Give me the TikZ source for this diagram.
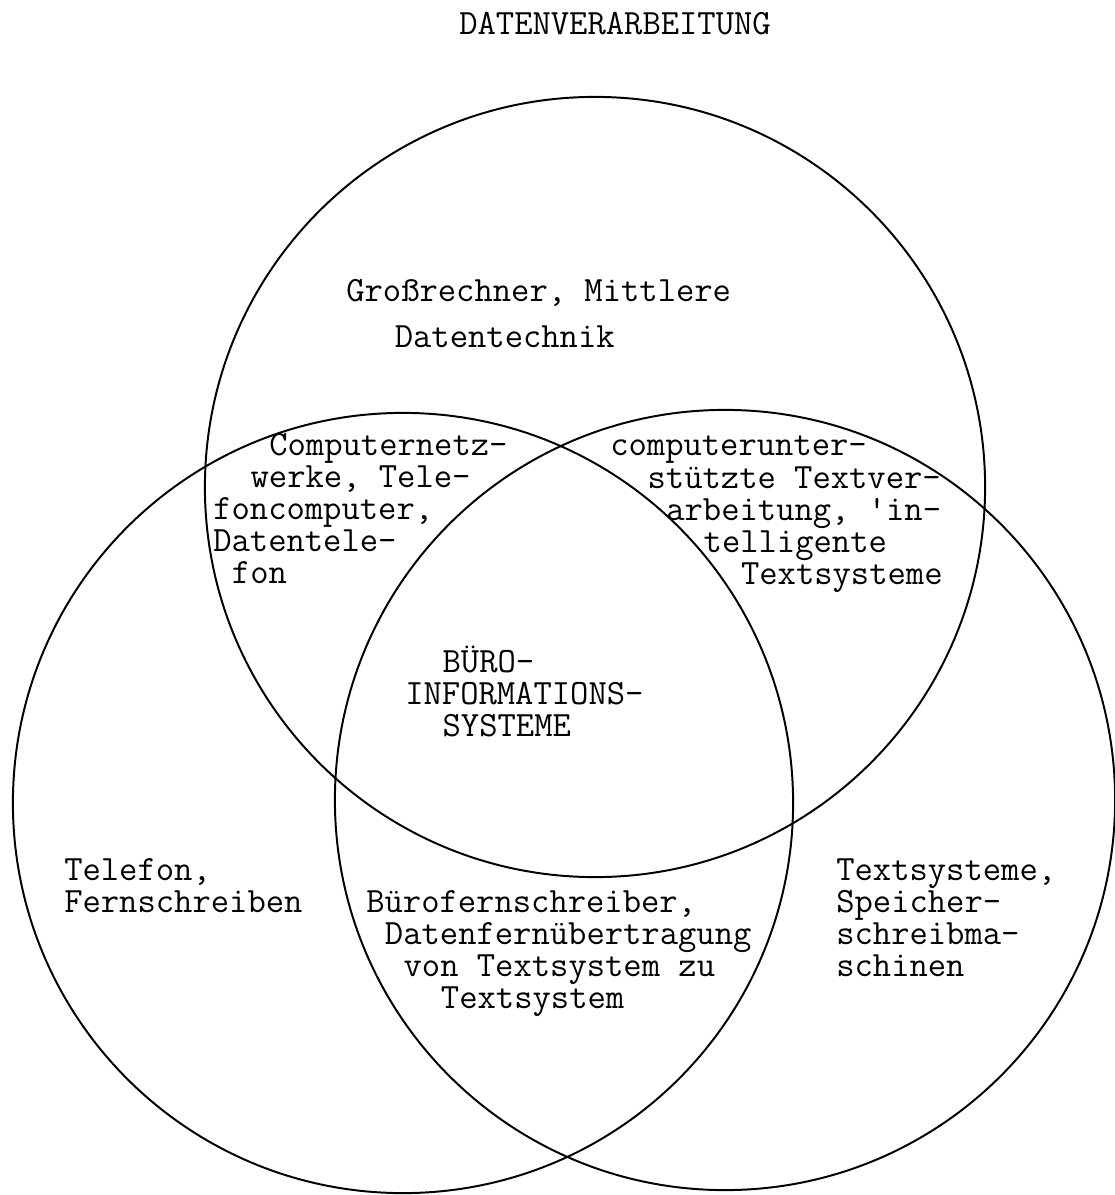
\documentclass[tikz,border=0pt]{standalone}
\usepackage{fontspec}
\usetikzlibrary{positioning}
% indent by a number of typewriter characters
\newcommand{\ind}[1]{\hspace*{\dimexpr#1em*525/1000\relax}}

\begin{document}
\begin{tikzpicture}[x=0.025cm,y=-0.025cm,
  ring/.style={draw,line width=1.4pt},
  lbl/.style={font=\ttfamily\fontsize{25.3}{22.76}\selectfont,align=left,inner sep=0pt,
    anchor=north west,execute at begin node={\rule{0pt}{20pt}}}]
\fill[white] (0,0) rectangle (1115,1195);
\useasboundingbox (0,0) rectangle (1115,1195);
% circle centres
\coordinate (dv) at (595,487);
\coordinate (tk) at (403,803);
\coordinate (ts) at (725,800);
\foreach \c in {dv,tk,ts}
  \draw[ring] (\c) circle[radius=9.75cm];
\node[lbl] (title) at (459,6) {DATENVERARBEITUNG};
\node[lbl] (grossr) at (346,279) {Großrechner, Mittlere\\[0.35cm]\ind{2.6}Datentechnik};
\node[lbl] (netz) at (213,433) {\ind{3}Computernetz-\\\ind{2}werke, Tele-\\foncomputer,\\Datentele-\\\ind{1}fon};
\node[lbl] (textv) at (610,436) {computerunter-\\\ind{2}stützte Textver-\\\ind{3}arbeitung, 'in-\\\ind{5}telligente\\\ind{7}Textsysteme};
\node[lbl] (buero) at (405,646) {\ind{2}BÜRO-\\INFORMATIONS-\\\ind{2}SYSTEME};
\node[lbl] (telef) at (64,858) {Telefon,\\Fernschreiben};
\node[lbl] (fernsch) at (366,890) {Bürofernschreiber,\\\ind{1}Datenfernübertragung\\\ind{2}von Textsystem zu\\\ind{4}Textsystem};
\node[lbl] (speich) at (836,858) {Textsysteme,\\Speicher-\\schreibma-\\schinen};
\end{tikzpicture}
\end{document}
